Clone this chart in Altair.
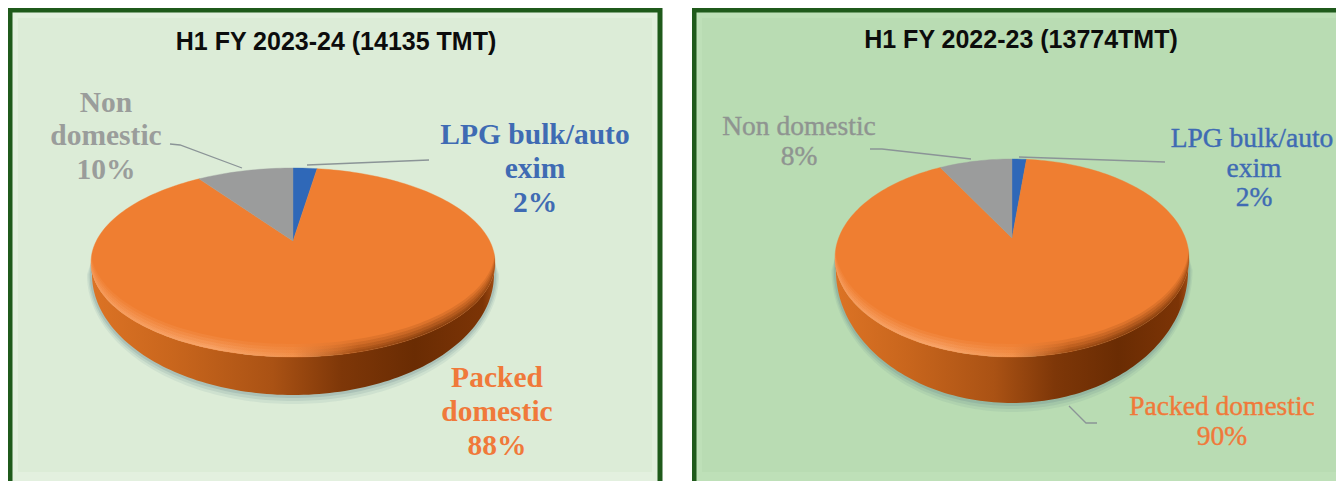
import math
import altair as alt
import pandas as pd

# ---- values
SEGMENTS = ["LPG bulk/auto exim", "Packed domestic", "Non domestic"]
COLORS = ["#2f68b8", "#ef7e31", "#9b9c9c"]
shares_left = [2.4, 88.0, 9.6]
shares_right = [1.6, 90.3, 8.1]
title_left = "H1 FY 2023-24 (14135 TMT)"
title_right = "H1 FY 2022-23 (13774TMT)"

TEXT_BLUE, TEXT_ORANGE, TEXT_GRAY = "#3f6bb3", "#f0793a", "#9a9d9b"

labels_left = [
    ("Non", 106, 112, TEXT_GRAY), ("domestic", 106, 145, TEXT_GRAY), ("10%", 106, 179, TEXT_GRAY),
    ("LPG bulk/auto", 535, 144, TEXT_BLUE), ("exim", 535, 178, TEXT_BLUE), ("2%", 535, 212, TEXT_BLUE),
    ("Packed", 497, 387, TEXT_ORANGE), ("domestic", 497, 421, TEXT_ORANGE), ("88%", 497, 455, TEXT_ORANGE),
]
labels_right = [
    ("Non domestic", 799, 135, "#8f9491"), ("8%", 799, 165, "#8f9491"),
    ("LPG bulk/auto", 1252, 147, TEXT_BLUE), ("exim", 1254, 177, TEXT_BLUE), ("2%", 1254, 206, TEXT_BLUE),
    ("Packed domestic", 1222, 415, TEXT_ORANGE), ("90%", 1222, 445, TEXT_ORANGE),
]
leaders_left = [
    [(170, 144), (180, 145), (242, 168)],
    [(307, 165), (429, 160)],
]
leaders_right = [
    [(870, 149), (882, 149), (971, 159)],
    [(1019, 157), (1165, 162)],
    [(1069, 406), (1086, 423), (1097, 423)],
]

PROJ = dict(type="identity", scale=1, translate=[-8, -8])
WALL_DROP = 12


def feature(coords, kind="Polygon"):
    geom = [coords + [coords[0]]] if kind == "Polygon" else coords
    return {"type": "Feature", "properties": {}, "geometry": {"type": kind, "coordinates": geom}}


def panel(ox, w, h, x0, x1, fill, border, halo, title, title_x, title_y, shares,
          apex_x, apex_y, top, bottom, rx, depth, labels, leaders, font_weight, font_size, thicken):
    shift = ox - 8
    cy = (top + bottom) / 2
    ry = (bottom - top) / 2
    above, below = apex_y - top, bottom - apex_y
    ratio = below / above
    k = (ratio - 1) / (ratio + 1)
    B = above * (1 + k)
    A = rx * math.sqrt(1 - k * k)

    def rim(theta):
        X, Y = math.sin(theta), math.cos(theta)
        w_ = 1 + k * Y
        return [round(apex_x + A * X / w_, 2), round(apex_y - B * Y / w_, 2)]

    def ell(phi, dy=0.0):
        return [round(apex_x + rx * math.cos(phi), 2), round(cy + dy + ry * math.sin(phi), 2)]

    def foot(phi, sx=.995, more=0.0):
        """Lower outline of the wall (and, a little larger, of the shadow)."""
        return [round(apex_x + rx * sx * math.cos(phi), 2),
                round(cy + WALL_DROP + (ry + depth - WALL_DROP + more) * math.sin(phi), 2)]

    N = 120
    lower = [i * math.pi / N for i in range(N + 1)]
    layers = []

    def moved(coords):
        return [[c[0] - shift, c[1]] for c in coords]

    def shape(coords, kind="Polygon", **mark):
        mark.setdefault("strokeWidth", 0)
        return alt.Chart(alt.Data(values=[feature(moved(coords), kind)])).mark_geoshape(clip=True, **mark).project(**PROJ)

    def hgrad(stops):
        return alt.Gradient(gradient="linear", x1=0, x2=1, y1=0, y2=0,
                            stops=[alt.GradientStop(offset=o, color=c) for o, c in stops])

    # panel
    rect = [[x0, 10], [x1, 10], [x1, 520], [x0, 520]]
    layers.append(shape(rect, fill=halo, stroke=border, strokeWidth=5))
    inner = [[x0 + 8, 18], [x1 - 8, 18], [x1 - 8, 472], [x0 + 8, 472]]
    layers.append(shape(inner, fill=fill))

    # soft shadow under the wall
    for s, more, op in [(1.02, 9, .10), (1.013, 6, .14), (1.006, 3, .2)]:
        pts = [ell(p) for p in lower] + [foot(p, sx=s, more=more) for p in reversed(lower)]
        layers.append(shape(pts, fill="#5d7f88", opacity=op))

    # side wall
    wall = [ell(p) for p in lower] + [foot(p) for p in reversed(lower)]
    layers.append(shape(wall, fill=hgrad([(0, "#dc7325"), (.2, "#c9661d"), (.45, "#aa5214"),
                                          (.62, "#7e3708"), (.8, "#6a2c03"), (.97, "#7c3406"), (1, "#a14d14")])))

    # slices on the top surface, drawn from the shares
    start = 0.0
    for i in range(len(SEGMENTS)):
        sweep = shares[i] / sum(shares) * 2 * math.pi
        n = max(3, int(sweep / (2 * math.pi) * 240))
        pts = [[apex_x, apex_y]] + [rim(start + sweep * j / n) for j in range(n + 1)]
        layers.append(shape(pts, fill=COLORS[i], stroke=COLORS[i], strokeWidth=.4))
        start += sweep

    # bevel along the front rim
    for t, op in [(13, .14), (10, .18), (7, .22), (4, .28), (2, .3)]:
        band = [ell(p) for p in lower] + [ell(p, dy=-t) for p in reversed(lower)]
        layers.append(shape(band, opacity=op,
                            fill=hgrad([(0, "#f8a56a"), (.3, "#fbb27d"), (.5, "#f39a58"),
                                        (.66, "#8a3f0c"), (.85, "#642a03"), (1, "#7d3708")])))

    # leaders
    for line in leaders:
        layers.append(shape([list(p) for p in line], "LineString", filled=False, stroke="#8b9497", strokeWidth=1.3))

    # labels
    df = pd.DataFrame(labels, columns=["text", "x", "y", "color"])
    df["x"] = df["x"] - shift
    layers.append(alt.Chart(df).mark_text(font="Liberation Serif", fontSize=font_size, fontWeight=font_weight,
                                          strokeWidth=thicken, align="center", baseline="alphabetic").encode(
        longitude="x:Q", latitude="y:Q", text="text:N",
        color=alt.Color("color:N", scale=None),
        stroke=alt.Color("color:N", scale=None)).project(**PROJ))
    tdf = pd.DataFrame({"text": [title], "x": [title_x - shift], "y": [title_y]})
    layers.append(alt.Chart(tdf).mark_text(font="Liberation Sans", fontSize=25, fontWeight="bold",
                                           color="#0c0c0c", align="center", baseline="alphabetic").encode(
        longitude="x:Q", latitude="y:Q", text="text:N").project(**PROJ))
    return alt.layer(*layers).properties(width=w, height=h)


left = panel(8, 656, 473, 10, 660, "#dcecd7", "#1f5a1b", "#e3f0df", title_left, 336, 50, shares_left,
             293, 241, 168, 357, 202, 38, labels_left, leaders_left, "bold", 29.5, 0)
right = panel(692, 644, 473, 694, 1420, "#b9dcb3", "#1f5a1b", "#bee0b8", title_right, 1021, 48, shares_right,
              1012, 238, 159, 357, 177, 46, labels_right, leaders_right, "normal", 27.5, .4)

chart = alt.hconcat(left, right, spacing=28).properties(padding=0).configure_view(strokeWidth=0)
chart.save("out.html", embed_options={"renderer": "svg", "actions": False})
